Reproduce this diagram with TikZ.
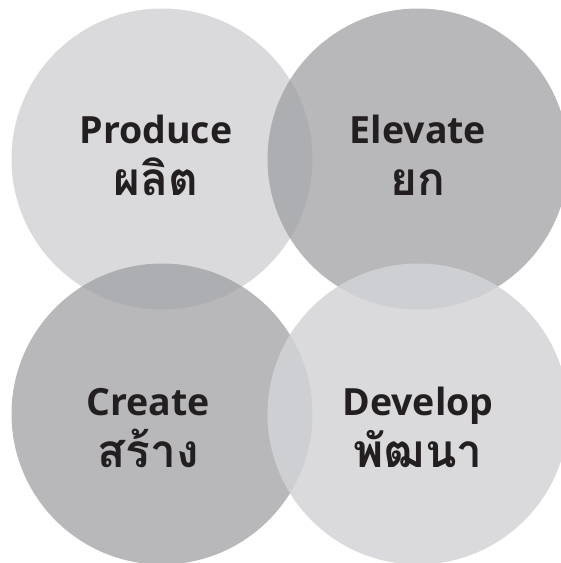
\documentclass[tikz,border=0pt]{standalone}
\usepackage{fontspec}
\setmainfont{Open Sans}
\newfontfamily\thaifont[Script=Thai]{Loma}
\definecolor{lightc}{RGB}{211,212,214}
\definecolor{darkc}{RGB}{157,158,162}
\definecolor{txt}{RGB}{35,31,32}
\newcommand\thline[1]{{\thaifont\fontsize{46}{52}\selectfont #1}}
\begin{document}
\begin{tikzpicture}[x=1pt,y=-1pt,
  bubble/.style={circle,minimum size=301pt,inner sep=0pt,draw=none},
  lightb/.style={bubble,fill=lightc,fill opacity=0.85},
  darkb/.style={bubble,fill=darkc,fill opacity=0.73},
  label/.style={anchor=base,align=center,text=txt,inner sep=0pt,
    font=\fontsize{37.5}{52}\selectfont\bfseries}]
\useasboundingbox (0,0) rectangle (561,563);
\node[lightb] (tl) at (162,159) {};
\node[darkb] (tr) at (418,159) {};
\node[darkb] (bl) at (162,414) {};
\node[lightb] (br) at (418,414) {};
\node[label] (produce) at (156,195) {Produce\\\thline{ผลิต}};
\node[label] (elevate) at (418,195) {Elevate\\\thline{ยก}};
\node[label] (create) at (148,467) {Create\\\thline{สร้าง}};
\node[label] (develop) at (418,467) {Develop\\\thline{พัฒนา}};
\end{tikzpicture}
\end{document}
